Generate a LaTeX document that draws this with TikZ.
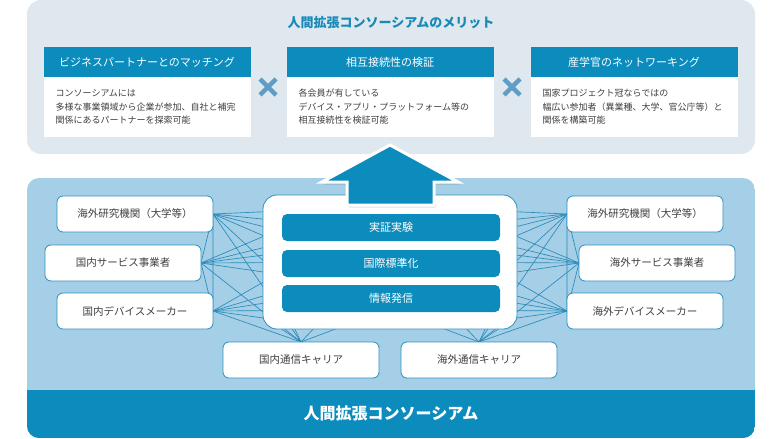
\documentclass[tikz,border=0pt]{standalone}
\usepackage{fontspec}
\newfontfamily\jp{Noto Sans CJK JP}
\usetikzlibrary{calc}
\definecolor{toppanel}{HTML}{DFE8EE}
\definecolor{botpanel}{HTML}{A4CFE7}
\definecolor{hdr}{HTML}{0B8CBC}
\definecolor{nodeline}{HTML}{2E8FBF}
\definecolor{meshc}{HTML}{2A8AB8}
\definecolor{xmc}{HTML}{5D9DC6}
\definecolor{titlec}{HTML}{1A89B6}
\definecolor{bodytxt}{HTML}{404040}
\pgfdeclarelayer{panel}
\pgfdeclarelayer{meshlayer}
\pgfsetlayers{panel,meshlayer,main}
\tikzset{
  hdrbox/.style={fill=hdr, minimum width=207pt, minimum height=30pt, inner sep=0pt, outer sep=0pt, text=white, font=\jp\fontsize{11}{13}\selectfont},
  bodybox/.style={fill=white, minimum width=207pt, minimum height=60pt, inner sep=0pt, outer sep=0pt},
  bodytext/.style={inner sep=0pt, align=left, text=bodytxt, font=\jp\fontsize{9}{13.5}\selectfont},
  peer/.style={draw=nodeline, fill=white, rounded corners=6pt, line width=0.8pt, minimum width=156pt, minimum height=36pt, inner sep=0pt, outer sep=0pt, text=bodytxt, font=\jp\fontsize{10.5}{12}\selectfont},
  bar/.style={fill=hdr, rounded corners=5pt, minimum width=218pt, minimum height=27pt, inner sep=0pt, text=white, font=\jp\fontsize{11}{13}\selectfont},
  mesh/.style={draw=meshc, line width=0.65pt},
  xm/.style={draw=xmc, line width=4.5pt},
}
\begin{document}
\begin{tikzpicture}[x=1pt,y=-1pt]
\useasboundingbox (0,0) rectangle (780,439);
% panels
\begin{pgfonlayer}{panel}
\fill[toppanel, rounded corners=14pt] (27,0) rectangle (755,154);
\begin{scope}
\clip[rounded corners=12pt] (27,178) rectangle (755,438);
\fill[botpanel] (27,178) rectangle (755,438);
\fill[hdr] (27,390) rectangle (755,438);
\end{scope}
\end{pgfonlayer}
% top part
\node[font=\jp\bfseries\fontsize{13}{15}\selectfont, text=titlec] (title) at (391,23) {人間拡張コンソーシアムのメリット};
\node[hdrbox] (h1) at (147,62) {ビジネスパートナーとのマッチング};
\node[bodybox, anchor=north] (b1) at (h1.south) {};
\node[bodytext, anchor=west] (t1) at ([xshift=12pt]b1.west) {コンソーシアムには\\多様な事業領域から企業が参加、自社と補完\\関係にあるパートナーを探索可能};
\node[hdrbox] (h2) at (390,62) {相互接続性の検証};
\node[bodybox, anchor=north] (b2) at (h2.south) {};
\node[bodytext, anchor=west] (t2) at ([xshift=12pt]b2.west) {各会員が有している\\デバイス・アプリ・プラットフォーム等の\\相互接続性を検証可能};
\node[hdrbox] (h3) at (634,62) {産学官のネットワーキング};
\node[bodybox, anchor=north] (b3) at (h3.south) {};
\node[bodytext, anchor=west] (t3) at ([xshift=12pt]b3.west) {国家プロジェクト冠ならではの\\幅広い参加者（異業種、大学、官公庁等）と\\関係を構築可能};
\draw[xm] (260,79) -- (276,95) (260,95) -- (276,79);
\draw[xm] (504,79) -- (520,95) (504,95) -- (520,79);
% core
\node[draw=nodeline, fill=white, rounded corners=14pt, line width=0.8pt, minimum width=254pt, minimum height=134pt, inner sep=0pt] (core) at (390,262) {};
\node[bar] (bar1) at (391,227.5) {実証実験};
\node[bar] (bar2) at (391,263.5) {国際標準化};
\node[bar] (bar3) at (391,298.5) {情報発信};
% peers
\node[peer] (l1) at (135,214) {海外研究機関（大学等）};
\node[peer] (l2) at (123,263) {国内サービス事業者};
\node[peer] (l3) at (135,311) {国内デバイスメーカー};
\node[peer] (l4) at (301,360) {国内通信キャリア};
\node[peer] (r1) at (645,214) {海外研究機関（大学等）};
\node[peer] (r2) at (657,263) {海外サービス事業者};
\node[peer] (r3) at (645,311) {海外デバイスメーカー};
\node[peer] (r4) at (479,360) {海外通信キャリア};
% mesh
\begin{pgfonlayer}{meshlayer}
\foreach \d in {17,25,33,43,70} \draw[mesh] (l1.east) -- ($(core.north west)+(5,\d)$);
\foreach \d in {40,52,60,68,78} \draw[mesh] (l2.east) -- ($(core.north west)+(5,\d)$);
\foreach \d in {85,100,108,116,124} \draw[mesh] (l3.east) -- ($(core.north west)+(5,\d)$);
\foreach \d in {12,30,55,85} \draw[mesh] (l4.north) -- ($(core.south west)+(\d,-5)$);
\draw[mesh] (l1.east) -- (l2.east) -- (l3.east) -- (l1.east);
\draw[mesh] (l1.east) -- (l4.north) (l2.east) -- (l4.north) (l3.east) -- (l4.north);
\foreach \d in {17,25,33,43,70} \draw[mesh] (r1.west) -- ($(core.north east)+(-5,\d)$);
\foreach \d in {40,52,60,68,78} \draw[mesh] (r2.west) -- ($(core.north east)+(-5,\d)$);
\foreach \d in {85,100,108,116,124} \draw[mesh] (r3.west) -- ($(core.north east)+(-5,\d)$);
\foreach \d in {12,30,55,85} \draw[mesh] (r4.north) -- ($(core.south east)+(-\d,-5)$);
\draw[mesh] (r1.west) -- (r2.west) -- (r3.west) -- (r1.west);
\draw[mesh] (r1.west) -- (r4.north) (r2.west) -- (r4.north) (r3.west) -- (r4.north);
\end{pgfonlayer}
% arrow
\fill[black, opacity=0.12] (391.5,147.5) -- (459.5,184.5) -- (435.5,184.5) -- (435.5,207.5) -- (348.5,207.5) -- (348.5,184.5) -- (323.5,184.5) -- cycle;
\filldraw[fill=hdr, draw=white, line width=3pt, line join=miter] (390,145) -- (458,182) -- (434,182) -- (434,205) -- (347,205) -- (347,182) -- (322,182) -- cycle;
\node[font=\jp\bfseries\fontsize{16}{18}\selectfont, text=white] (bottitle) at (391,413) {人間拡張コンソーシアム};
\end{tikzpicture}
\end{document}
